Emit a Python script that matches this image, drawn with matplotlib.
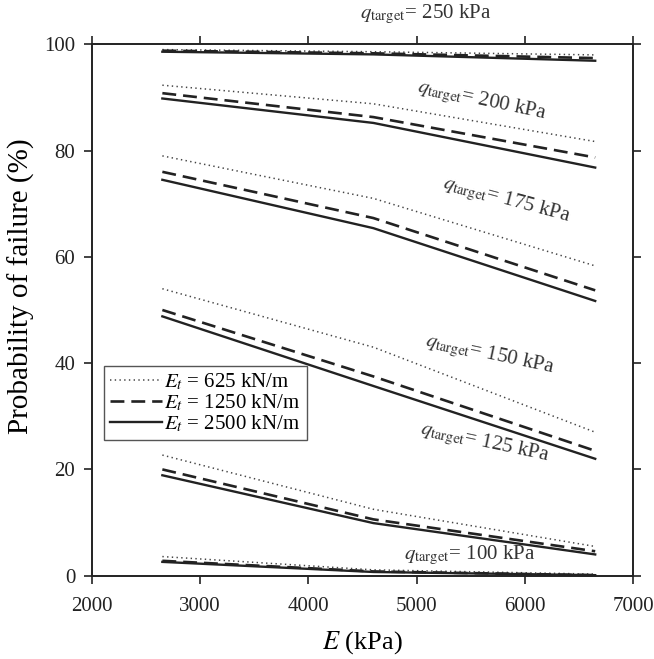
import matplotlib
matplotlib.use("Agg")
import matplotlib.pyplot as plt

plt.rcParams['font.family'] = ['Liberation Serif', 'DejaVu Serif']
plt.rcParams['mathtext.fontset'] = 'stix'
plt.rcParams['lines.scale_dashes'] = False

# Data
E_values = [2650, 4600, 6650]
q_targets = [250, 200, 175, 150, 125, 100]
Et_labels = [r'$E_t$ = 625 kN/m', r'$E_t$ = 1250 kN/m', r'$E_t$ = 2500 kN/m']

pf_625 = {
    250: [99.0, 98.6, 98.0],
    200: [92.3, 88.8, 81.7],
    175: [79.0, 71.0, 58.3],
    150: [54.0, 43.0, 27.0],
    125: [22.7, 12.5, 5.5],
    100: [3.6, 1.1, 0.3],
}
pf_1250 = {
    250: [98.8, 98.3, 97.4],
    200: [90.8, 86.3, 78.7],
    175: [76.0, 67.3, 53.7],
    150: [50.0, 37.5, 23.5],
    125: [20.0, 10.6, 4.6],
    100: [2.8, 0.8, 0.1],
}
pf_2500 = {
    250: [98.6, 98.1, 96.9],
    200: [89.8, 85.2, 76.8],
    175: [74.5, 65.4, 51.7],
    150: [48.8, 35.7, 22.0],
    125: [18.9, 9.9, 4.0],
    100: [2.6, 0.7, 0.1],
}

label_pos = {
    250: (5080, 105.6, 0),
    200: (5600, 89.3, -12),
    175: (5830, 70.6, -15),
    150: (5670, 41.4, -12),
    125: (5630, 25.0, -12),
    100: (5490, 3.9, 0),
}

fig = plt.figure(figsize=(6.54, 6.59), dpi=100)
ax = fig.add_axes([0.1407, 0.1264, 0.8273, 0.8064])

styles = [
    dict(color='#444444', lw=1.1, dashes=(1.0, 2.4)),
    dict(color='#222222', lw=1.9, dashes=(10, 5)),
    dict(color='#222222', lw=1.7, linestyle='-'),
]
series = [pf_625, pf_1250, pf_2500]

for i, (data, st) in enumerate(zip(series, styles)):
    for j, q in enumerate(q_targets):
        lbl = Et_labels[i] if j == 0 else None
        ax.plot(E_values, data[q], label=lbl, clip_on=False, **st)

for q in q_targets:
    x, y, rot = label_pos[q]
    ax.text(x, y, r'$q_{\mathrm{target}}$= %d kPa' % q, fontsize=15,
            rotation=rot, ha='center', va='center', color='#333333',
            clip_on=False, rotation_mode='anchor')

ax.set_xlim(2000, 7000)
ax.set_ylim(0, 100)
ax.set_xticks([2000, 3000, 4000, 5000, 6000, 7000])
ax.set_yticks([0, 20, 40, 60, 80, 100])
ax.tick_params(direction='out', length=6, width=1.2, labelsize=15,
               top=True, right=True, labeltop=False, labelright=False,
               colors='#222222')
ax.tick_params(axis='x', pad=9)
ax.tick_params(axis='y', pad=6)
for s in ax.spines.values():
    s.set_linewidth(1.4)
    s.set_color('#222222')

ax.set_xlabel(r'$E$ (kPa)', fontsize=19, labelpad=10)
ax.set_ylabel('Probability of failure (%)', fontsize=21)
ax.yaxis.set_label_coords(-0.105, 0.545)

leg = ax.legend(loc='upper left', bbox_to_anchor=(0.022, 0.395),
                fontsize=15, handlelength=2.5, handletextpad=0.1,
                labelspacing=0.0, borderpad=0.3, fancybox=False,
                framealpha=1, edgecolor='#555555', borderaxespad=0)
leg.get_frame().set_linewidth(1.0)

fig.savefig('out.png', dpi=100)
